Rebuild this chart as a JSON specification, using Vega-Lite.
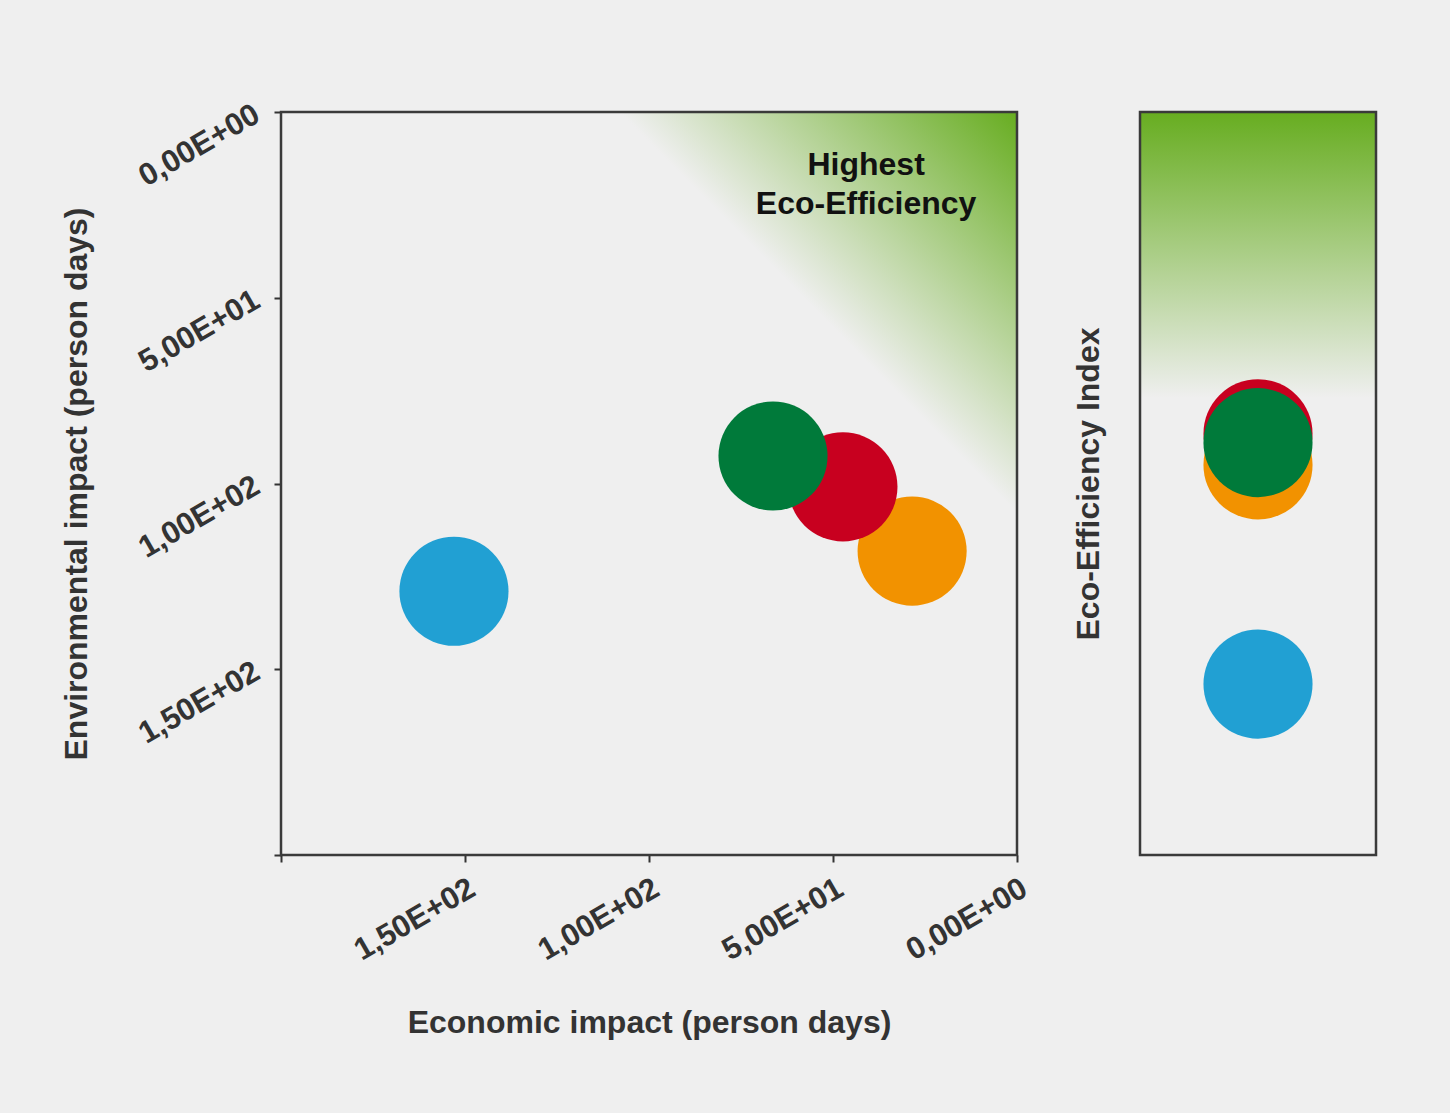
{
  "$schema": "https://vega.github.io/schema/vega-lite/v6.json",
  "background": "#efefef",
  "autosize": {"type": "pad"},
  "padding": {"left": 60, "top": 98, "right": 75, "bottom": 74},
  "spacing": 123,
  "bounds": "flush",
  "config": {
    "view": {"stroke": null},
    "font": "Liberation Sans",
    "axis": {
      "labelFont": "Liberation Sans",
      "labelFontWeight": "bold",
      "labelFontSize": 31,
      "labelColor": "#333333",
      "titleFont": "Liberation Sans",
      "titleFontWeight": "bold",
      "titleFontSize": 32,
      "titleColor": "#333333",
      "tickColor": "#333333",
      "tickWidth": 2,
      "tickSize": 7,
      "domain": false,
      "grid": false
    }
  },
  "datasets": {
    "impacts": [
      {"product": "Alternative A", "economic": 153, "environmental": 129},
      {"product": "Alternative B", "economic": 28.5, "environmental": 118.2},
      {"product": "Alternative C", "economic": 47.3, "environmental": 100.9},
      {"product": "Alternative D", "economic": 66.3, "environmental": 92.6}
    ],
    "index": [
      {"product": "Alternative A", "eco_index": 0.23},
      {"product": "Alternative B", "eco_index": 0.525},
      {"product": "Alternative C", "eco_index": 0.567},
      {"product": "Alternative D", "eco_index": 0.555}
    ],
    "note": [
      {"label": "Highest\nEco-Efficiency"}
    ]
  },
  "hconcat": [
    {
      "width": 736,
      "height": 743,
      "layer": [
        {
          "data": {"name": "note"},
          "mark": {
            "type": "rect",
            "fill": {
              "gradient": "linear",
              "x1": 1, "y1": 0, "x2": 0.73, "y2": 0.27,
              "stops": [
                {"offset": 0, "color": "#67ad20"},
                {"offset": 1, "color": "#efefef"}
              ]
            }
          },
          "encoding": {
            "x": {"datum": 200, "type": "quantitative"},
            "x2": {"datum": 0},
            "y": {"datum": 0, "type": "quantitative"},
            "y2": {"datum": 200}
          }
        },
        {
          "data": {"name": "impacts"},
          "mark": {"type": "circle", "size": 11900, "opacity": 1},
          "encoding": {
            "x": {
              "field": "economic", "type": "quantitative",
              "scale": {"domain": [0, 200], "reverse": true, "nice": false, "zero": false},
              "axis": {
                "title": "Economic impact (person days)",
                "values": [0, 50, 100, 150, 200],
                "labelExpr": "datum.value == 0 ? '0,00E+00' : datum.value == 50 ? '5,00E+01' : datum.value == 100 ? '1,00E+02' : datum.value == 150 ? '1,50E+02' : ''",
                "labelAngle": -30,
                "labelAlign": "right",
                "labelBaseline": "top",
                "labelPadding": 11,
                "titlePadding": 42
              }
            },
            "y": {
              "field": "environmental", "type": "quantitative",
              "scale": {"domain": [0, 200], "reverse": true, "nice": false, "zero": false},
              "axis": {
                "title": "Environmental impact (person days)",
                "values": [0, 50, 100, 150, 200],
                "labelExpr": "datum.value == 0 ? '0,00E+00' : datum.value == 50 ? '5,00E+01' : datum.value == 100 ? '1,00E+02' : datum.value == 150 ? '1,50E+02' : ''",
                "labelAngle": -30,
                "labelAlign": "right",
                "labelBaseline": "middle",
                "labelPadding": 17,
                "titlePadding": 40
              }
            },
            "color": {
              "field": "product", "type": "nominal",
              "scale": {
                "domain": ["Alternative A", "Alternative B", "Alternative C", "Alternative D"],
                "range": ["#21a0d3", "#f29200", "#c8001f", "#007a3a"]
              },
              "legend": null
            }
          }
        },
        {
          "data": {"name": "note"},
          "mark": {
            "type": "text",
            "font": "Liberation Sans",
            "fontWeight": "bold",
            "fontSize": 32,
            "lineHeight": 39,
            "lineBreak": "\n",
            "color": "#111111",
            "align": "center",
            "baseline": "middle"
          },
          "encoding": {
            "text": {"field": "label"},
            "x": {"datum": 41, "type": "quantitative"},
            "y": {"datum": 14.3, "type": "quantitative"}
          }
        },
        {
          "data": {"name": "note"},
          "mark": {"type": "rect", "fillOpacity": 0, "stroke": "#3a3a3a", "strokeWidth": 2.5},
          "encoding": {
            "x": {"datum": 200, "type": "quantitative"},
            "x2": {"datum": 0},
            "y": {"datum": 0, "type": "quantitative"},
            "y2": {"datum": 200}
          }
        }
      ]
    },
    {
      "width": 236,
      "height": 743,
      "layer": [
        {
          "data": {"name": "note"},
          "mark": {
            "type": "rect",
            "fill": {
              "gradient": "linear",
              "x1": 0, "y1": 0, "x2": 0, "y2": 1,
              "stops": [
                {"offset": 0, "color": "#67ad20"},
                {"offset": 1, "color": "#efefef"}
              ]
            }
          },
          "encoding": {
            "x": {"datum": 0, "type": "quantitative", "axis": null},
            "x2": {"datum": 1},
            "y": {"datum": 1, "type": "quantitative"},
            "y2": {"datum": 0.615}
          }
        },
        {
          "data": {"name": "index"},
          "mark": {"type": "circle", "size": 11900, "opacity": 1},
          "encoding": {
            "x": {
              "datum": 0.5, "type": "quantitative",
              "scale": {"domain": [0, 1], "nice": false, "zero": false},
              "axis": null
            },
            "y": {
              "field": "eco_index", "type": "quantitative",
              "scale": {"domain": [0, 1], "nice": false},
              "axis": {
                "title": "Eco-Efficiency Index",
                "labels": false,
                "ticks": false,
                "domain": false,
                "titlePadding": 35
              }
            },
            "color": {
              "field": "product", "type": "nominal",
              "legend": null
            }
          }
        },
        {
          "data": {"name": "note"},
          "mark": {"type": "rect", "fillOpacity": 0, "stroke": "#3a3a3a", "strokeWidth": 2.5},
          "encoding": {
            "x": {"datum": 0, "type": "quantitative"},
            "x2": {"datum": 1},
            "y": {"datum": 0, "type": "quantitative"},
            "y2": {"datum": 1}
          }
        }
      ]
    }
  ]
}
